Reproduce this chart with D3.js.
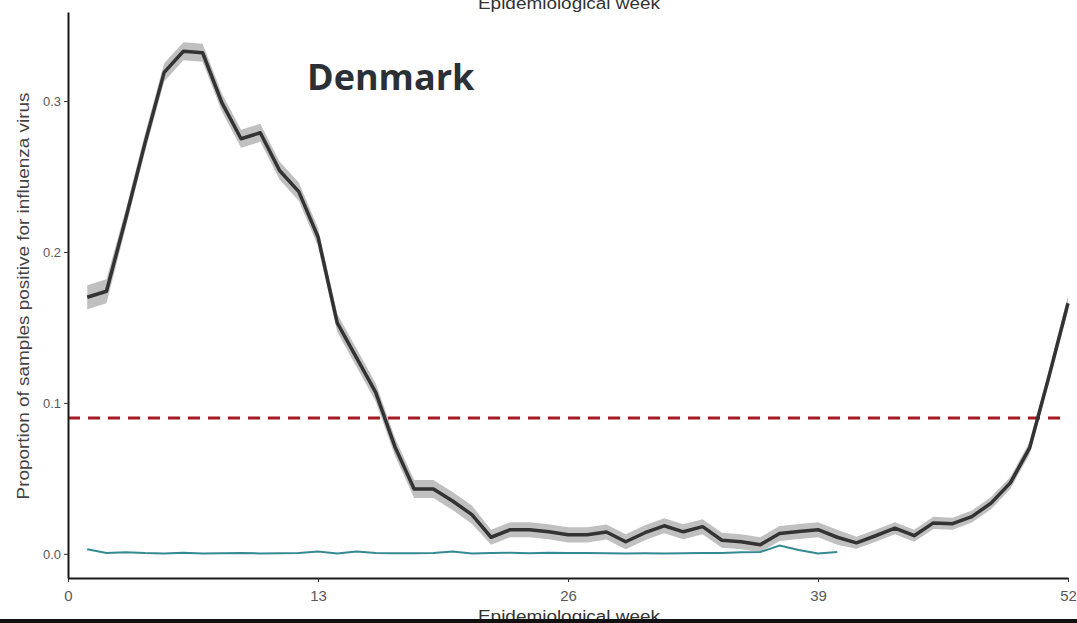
<!DOCTYPE html>
<html>
<head>
<meta charset="utf-8">
<script src="https://cdn.jsdelivr.net/npm/d3@7"></script>
<style>
  body { margin: 0; background: #fff; }
  svg { display: block; }
</style>
</head>
<body>
<div id="chart"></div>
<script>
// weekly proportion of positive samples (black line) with band half-width
var weeks = d3.range(1, 53);
var positive = [0.170, 0.174, 0.222, 0.272, 0.319, 0.333, 0.332, 0.299, 0.275, 0.279,
                0.254, 0.240, 0.210, 0.153, 0.130, 0.107, 0.071, 0.043, 0.043, 0.035,
                0.026, 0.011, 0.016, 0.016, 0.0146, 0.0126, 0.0126, 0.0145, 0.008, 0.014,
                0.0186, 0.0146, 0.018, 0.009, 0.008, 0.006, 0.0135, 0.0148, 0.016, 0.011,
                0.0073, 0.012, 0.017, 0.012, 0.0205, 0.020, 0.0247, 0.0336, 0.047, 0.070,
                0.117, 0.166];
var bandHalf = [0.008, 0.008, 0.006, 0.006, 0.006, 0.006, 0.006, 0.006, 0.006, 0.006,
                0.006, 0.006, 0.006, 0.006, 0.006, 0.006, 0.006, 0.006, 0.006, 0.006,
                0.006, 0.005, 0.005, 0.005, 0.005, 0.005, 0.005, 0.005, 0.005, 0.005,
                0.005, 0.005, 0.005, 0.005, 0.005, 0.005, 0.005, 0.005, 0.005, 0.005,
                0.004, 0.004, 0.004, 0.004, 0.004, 0.004, 0.004, 0.004, 0.004, 0.004,
                0.004, 0.005];
// current season (teal line), weeks 1-40
var currentWeeks = d3.range(1, 41);
var current = [0.003, 0.0005, 0.001, 0.0005, 0.0003, 0.0008, 0.0003, 0.0004, 0.0005, 0.0003,
               0.0004, 0.0006, 0.0015, 0.0003, 0.0015, 0.0005, 0.0004, 0.0004, 0.0006, 0.0015,
               0.0003, 0.0005, 0.0008, 0.0004, 0.0008, 0.0006, 0.0005, 0.0004, 0.0003, 0.0004,
               0.0003, 0.0004, 0.0005, 0.0006, 0.001, 0.0012, 0.0055, 0.0025, 0.0002, 0.0012];
var threshold = 0.09;
var xTicks = [0, 13, 26, 39, 52];
var yTicks = [0.0, 0.1, 0.2, 0.3];

var width = 1077, height = 623;
var font = "'Liberation Sans', Arial, sans-serif";

var svg = d3.select("#chart").append("svg")
    .attr("width", width)
    .attr("height", height);

var x = d3.scaleLinear().domain([0, 52]).range([68, 1068]);
var y = d3.scaleLinear().domain([-0.016, 0.359]).range([578, 12]);

// confidence band
var area = d3.area()
    .x(function (d, i) { return x(weeks[i]); })
    .y0(function (d, i) { return y(positive[i] - bandHalf[i]); })
    .y1(function (d, i) { return y(positive[i] + bandHalf[i]); });

svg.append("path")
    .datum(positive)
    .attr("fill", "#b5b5b5")
    .attr("opacity", 0.85)
    .attr("d", area);

// threshold line
svg.append("line")
    .attr("x1", x(0)).attr("x2", x(52))
    .attr("y1", y(threshold)).attr("y2", y(threshold))
    .attr("stroke", "#a51c22")
    .attr("stroke-width", 3)
    .attr("stroke-dasharray", "12,8");

var line = d3.line()
    .x(function (d, i) { return x(weeks[i]); })
    .y(function (d) { return y(d); });

svg.append("path")
    .datum(positive)
    .attr("fill", "none")
    .attr("stroke", "#333333")
    .attr("stroke-width", 3.5)
    .attr("stroke-linejoin", "round")
    .attr("d", line);

var line2 = d3.line()
    .x(function (d, i) { return x(currentWeeks[i]); })
    .y(function (d) { return y(d); });

svg.append("path")
    .datum(current)
    .attr("fill", "none")
    .attr("stroke", "#348a93")
    .attr("stroke-width", 2)
    .attr("d", line2);

// axes
var xAxis = svg.append("g")
    .attr("transform", "translate(0," + y(-0.016) + ")")
    .call(d3.axisBottom(x).tickValues(xTicks).tickSize(4).tickSizeOuter(0).tickFormat(d3.format("d")));
var yAxis = svg.append("g")
    .attr("transform", "translate(" + x(0) + ",0)")
    .call(d3.axisLeft(y).tickValues(yTicks).tickSize(4).tickSizeOuter(0).tickFormat(d3.format(".1f")));

[xAxis, yAxis].forEach(function (a) {
    a.select(".domain").attr("stroke", "#1a1a1a").attr("stroke-width", 2);
    a.selectAll(".tick line").attr("stroke", "#333").attr("stroke-width", 1);
    a.selectAll(".tick text")
        .attr("fill", "#595959")
        .style("font-family", font)
        .style("font-size", "13px");
});
xAxis.selectAll(".tick text").style("font-size", "15px").attr("dy", "1.05em");

// titles
svg.append("text")
    .attr("x", 569).attr("y", 9)
    .attr("text-anchor", "middle")
    .attr("fill", "#333")
    .attr("textLength", 182)
    .attr("lengthAdjust", "spacingAndGlyphs")
    .style("font-family", font)
    .style("font-size", "16px")
    .text("Epidemiological week");

svg.append("text")
    .attr("x", 569).attr("y", 622)
    .attr("text-anchor", "middle")
    .attr("fill", "#333")
    .attr("textLength", 182)
    .attr("lengthAdjust", "spacingAndGlyphs")
    .style("font-family", font)
    .style("font-size", "16px")
    .text("Epidemiological week");

svg.append("text")
    .attr("transform", "translate(29,296) rotate(-90)")
    .attr("text-anchor", "middle")
    .attr("fill", "#444")
    .attr("textLength", 407)
    .attr("lengthAdjust", "spacingAndGlyphs")
    .style("font-family", font)
    .style("font-size", "16px")
    .text("Proportion of samples positive for influenza virus");

svg.append("text")
    .attr("x", 307).attr("y", 90)
    .attr("fill", "#2b2f36")
    .style("font-family", "'Open Sans', sans-serif")
    .style("font-weight", "bold")
    .style("font-size", "36px")
    .text("Denmark");

// dark strip along the bottom edge
svg.append("rect")
    .attr("x", 0).attr("y", 619)
    .attr("width", width).attr("height", 4)
    .attr("fill", "#111");
</script>
</body>
</html>
